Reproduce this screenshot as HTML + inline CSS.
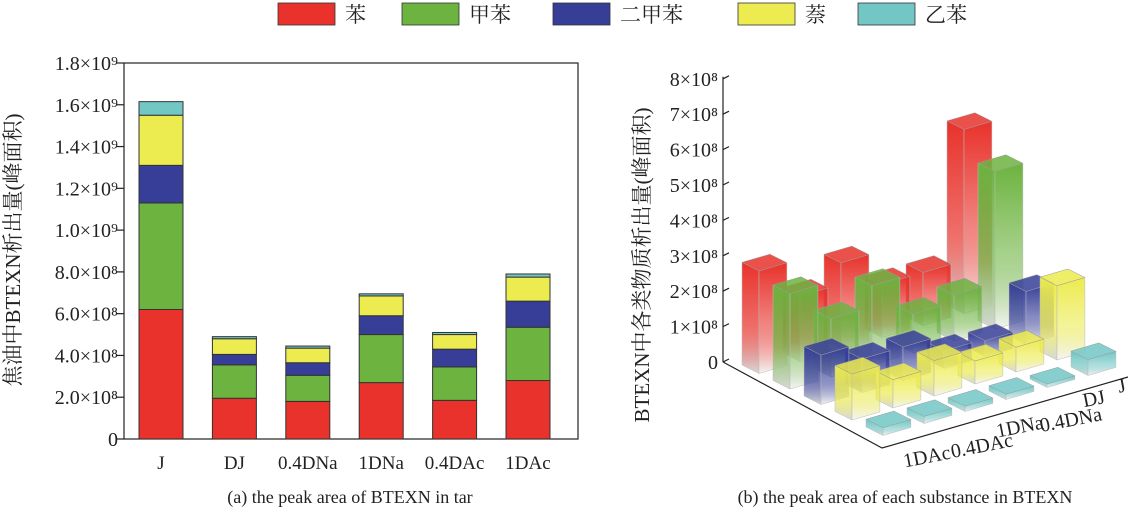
<!DOCTYPE html>
<html><head><meta charset="utf-8"><style>
body{margin:0;background:#fff;width:1129px;height:514px;overflow:hidden}
svg{font-family:"Liberation Serif","Noto Serif CJK SC",serif}
</style></head><body>
<svg id="chart" width="1129" height="514" viewBox="0 0 1129 514" xmlns="http://www.w3.org/2000/svg">
<defs id="defs"></defs>
<g id="legend"></g>
<g id="left"></g>
<g id="right"></g>
</svg>
<script>
const categories = ["J","DJ","0.4DNa","1DNa","0.4DAc","1DAc"];
const seriesNames = ["苯","甲苯","二甲苯","萘","乙苯"];
const benzene = [6.2,1.95,1.8,2.7,1.85,2.8];
const toluene = [5.1,1.6,1.25,2.3,1.6,2.55];
const xylene = [1.8,0.5,0.6,0.9,0.85,1.25];
const naphthalene = [2.4,0.75,0.7,0.95,0.7,1.15];
const ethylbenzene = [0.65,0.1,0.1,0.1,0.1,0.15];
const yTicks = ["0","2.0×10⁸","4.0×10⁸","6.0×10⁸","8.0×10⁸","1.0×10⁹","1.2×10⁹","1.4×10⁹","1.6×10⁹","1.8×10⁹"];
const cat3d = ["1DAc","0.4DAc","1DNa","0.4DNa","DJ","J"];
const b3d = [2.9,1.85,2.45,1.5,1.5,5.2];
const t3d = [2.7,1.65,2.25,1.1,1.3,4.45];
const x3d = [1.4,0.95,0.95,0.5,0.45,1.5];
const n3d = [1.3,0.8,1.0,0.65,0.7,2.1];
const e3d = [0.22,0.2,0.15,0.15,0.1,0.45];
const z3dTicks = ["0","1×10⁸","2×10⁸","3×10⁸","4×10⁸","5×10⁸","6×10⁸","7×10⁸","8×10⁸"];

const colors=["#e8322b","#6cb33f","#363e98","#eceb4f","#72c7c5"];
const NS="http://www.w3.org/2000/svg";
function mk(tag,attrs,parent,txt){const e=document.createElementNS(NS,tag);for(const k in attrs)e.setAttribute(k,attrs[k]);if(txt!==undefined)e.textContent=txt;parent.appendChild(e);return e;}

const lg=document.getElementById('legend');
const legX=[278,402,553,738,858];
seriesNames.forEach((n,i)=>{
  const r=mk('rect',{x:legX[i],y:3,width:57,height:22,fill:colors[i],stroke:'#333','stroke-width':0.8},lg);
  
  
  const t=mk('text',{x:legX[i]+67,y:22,'font-size':21,fill:'#222'},lg,n);
  
  
});

const L=document.getElementById('left');
const px0=124,px1=578,py0=439,py1=63;
const yS=v=>py0-(v/18)*(py0-py1);
const xC=i=>161+i*73.4;
mk('rect',{x:px0,y:py1,width:px1-px0,height:py0-py1,fill:'none',stroke:'#222','stroke-width':1.2},L);
yTicks.forEach((t,i)=>{
  const y=yS(i*2);
  mk('line',{x1:px0-8,x2:px0,y1:y,y2:y,stroke:'#222','stroke-width':1.2},L);
  const tx=mk('text',{x:px0-6,y:y+7,'font-size':20,'text-anchor':'end',fill:'#222'},L,t);
  
  
});
const stack=[benzene,toluene,xylene,naphthalene,ethylbenzene];
categories.forEach((c,i)=>{
  let acc=0;
  stack.forEach((s,j)=>{
    const r=mk('rect',{x:xC(i)-22,y:yS(acc+s[i]),width:44,height:yS(acc)-yS(acc+s[i]),fill:colors[j],stroke:'#333','stroke-width':1},L);
    
    
    acc+=s[i];
  });
  const t=mk('text',{x:xC(i),y:469,'font-size':19,'text-anchor':'middle',fill:'#222'},L,c);
  
  
});
const yt=mk('text',{x:0,y:0,'font-size':21,'text-anchor':'middle',fill:'#222',transform:'translate(20,250) rotate(-90)'},L,'焦油中BTEXN析出量(峰面积)');


const c1=mk('text',{x:350,y:503,'font-size':18,'text-anchor':'middle',fill:'#222'},L,'(a) the peak area of BTEXN in tar');



const R=document.getElementById('right');
const defs=document.getElementById('defs');
colors.forEach((c,j)=>{
  const g=mk('linearGradient',{id:'gf'+j,x1:0,y1:0,x2:0,y2:1},defs);
  mk('stop',{offset:'0',"stop-color":c},g);
  mk('stop',{offset:'0.55',"stop-color":c,"stop-opacity":0.6},g);
  mk('stop',{offset:'1',"stop-color":'#f4f4f4'},g);
  const g2=mk('linearGradient',{id:'gs'+j,x1:0,y1:0,x2:0,y2:1},defs);
  mk('stop',{offset:'0',"stop-color":c},g2);
  mk('stop',{offset:'0.6',"stop-color":c,"stop-opacity":0.7},g2);
  mk('stop',{offset:'1',"stop-color":'#d8d8d8'},g2);
});
const zPx=35.4, ox=723, oy=362;
const U=[41,-12], V=[31,15.5];
const base=(i,j)=>[742+U[0]*i+V[0]*j, 365+U[1]*i+V[1]*j];
mk('line',{x1:ox,y1:oy,x2:ox,y2:oy-8*zPx-2,stroke:'#222','stroke-width':1.2},R);
z3dTicks.forEach((t,k)=>{
  const y=oy-k*zPx;
  mk('line',{x1:ox,y1:y,x2:ox+6,y2:y-3,stroke:'#222','stroke-width':1.2},R);
  const tx=mk('text',{x:ox-5,y:y+7,'font-size':20,'text-anchor':'end',fill:'#222'},R,t);
  
  
});
mk('polyline',{points:`${ox},${oy} 882,448 1128,377`,fill:'none',stroke:'#222','stroke-width':1.2},R);
const s3=[b3d,t3d,x3d,n3d,e3d];
const du=0.68, dv=0.55;
const P=(p,a,b,h)=>[p[0]+U[0]*a+V[0]*b, p[1]+U[1]*a+V[1]*b-h];
const pts=a=>a.map(p=>p[0].toFixed(1)+','+p[1].toFixed(1)).join(' ');
for(let j=0;j<5;j++){
  for(let i=5;i>=0;i--){
    const p=base(i,j), h=s3[j][i]*zPx;
    const g=mk('g',{},R);
    
    
    mk('polygon',{points:pts([P(p,0,0,h),P(p,0,dv,h),P(p,0,dv,0),P(p,0,0,0)]),fill:`url(#gs${j})`,stroke:'#bbb','stroke-width':0.5},g);
    mk('polygon',{points:pts([P(p,0,dv,h),P(p,du,dv,h),P(p,du,dv,0),P(p,0,dv,0)]),fill:`url(#gf${j})`,stroke:'#bbb','stroke-width':0.5},g);
    mk('polygon',{points:pts([P(p,0,0,h),P(p,du,0,h),P(p,du,dv,h),P(p,0,dv,h)]),fill:colors[j],'fill-opacity':0.85,stroke:'#999','stroke-width':0.5},g);
  }
}
const labPos=[[928,463],[983,452],[1021,433],[1072,426],[1095,405],[1123,392]];
cat3d.forEach((c,i)=>{
  const t=mk('text',{x:0,y:0,'font-size':20,'text-anchor':'middle',fill:'#222',transform:`translate(${labPos[i][0]},${labPos[i][1]}) rotate(-11)`},R,c);
  
  
});
const zt=mk('text',{x:0,y:0,'font-size':21,'text-anchor':'middle',fill:'#222',transform:'translate(649,265) rotate(-90)'},R,'BTEXN中各类物质析出量(峰面积)');


const c2=mk('text',{x:905,y:503,'font-size':18,'text-anchor':'middle',fill:'#222'},R,'(b) the peak area of each substance in BTEXN');


</script>
</body></html>
